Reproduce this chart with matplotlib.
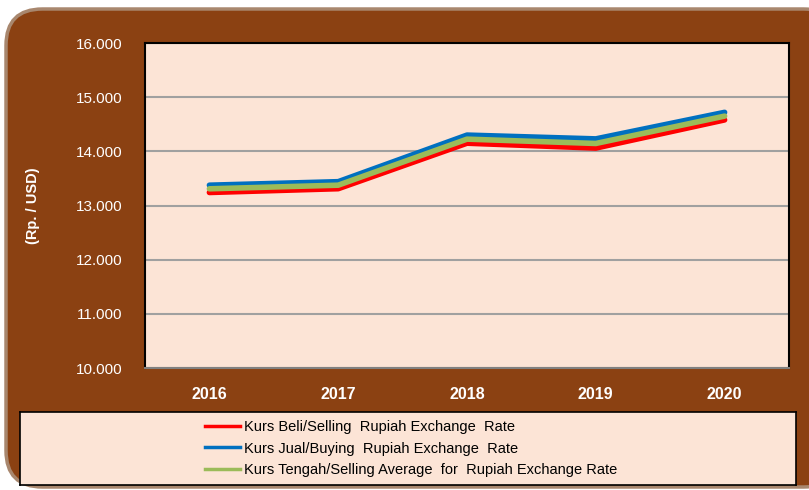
import matplotlib
matplotlib.use("Agg")
import matplotlib.pyplot as plt
from matplotlib.patches import FancyBboxPatch
from matplotlib.lines import Line2D

years = ["2016", "2017", "2018", "2019", "2020"]
kurs_beli = [13240, 13310, 14150, 14060, 14580]
kurs_jual = [13375, 13440, 14300, 14230, 14720]
kurs_tengah = [13308, 13375, 14225, 14145, 14650]
labels = ["Kurs Beli/Selling  Rupiah Exchange  Rate",
          "Kurs Jual/Buying  Rupiah Exchange  Rate",
          "Kurs Tengah/Selling Average  for  Rupiah Exchange Rate"]
y_ticks = [10000, 11000, 12000, 13000, 14000, 15000, 16000]
y_ticklabels = ["10.000", "11.000", "12.000", "13.000", "14.000", "15.000", "16.000"]

plt.rcParams['font.family'] = ["Liberation Sans", "DejaVu Sans"]

W, H = 809, 490
fig = plt.figure(figsize=(W / 100, H / 100), dpi=100)
fig.patch.set_facecolor("white")

brown = "#8B4112"
bg = FancyBboxPatch((6 / W, 3 / H), (840 - 6) / W, (H - 3 - 9) / H,
                    boxstyle="round,pad=0,rounding_size=0.045",
                    transform=fig.transFigure, facecolor=brown,
                    edgecolor="#A8876E", linewidth=2.5, zorder=-10,
                    mutation_aspect=W / H)
fig.patches.append(bg)

ax = fig.add_axes([145 / W, 1 - 368 / H, (789 - 145) / W, (368 - 43) / H])
ax.set_facecolor("#FCE4D6")
x = [i + 0.5 for i in range(len(years))]
ax.set_xlim(0, len(years))
ax.set_ylim(10000, 16000)
ax.set_yticks(y_ticks)
ax.set_yticklabels(y_ticklabels, color="white", fontsize=11)
ax.set_xticks(x)
ax.set_xticklabels(years, color="white", fontsize=11.5, fontweight="bold")
ax.tick_params(length=0, pad=14, axis="x")
ax.tick_params(length=0, pad=16.5, axis="y")
ax.grid(axis="y", color="#A0A0A0", linewidth=1.5)
ax.set_axisbelow(True)
for s in ax.spines.values():
    s.set_color("black")
    s.set_linewidth(1.5)
ax.spines["bottom"].set_color("#808080")

lw = 4
ax.plot(x, kurs_beli, color="#FF0000", lw=lw, solid_capstyle="round", zorder=3)
ax.plot(x, kurs_jual, color="#0070C0", lw=lw, solid_capstyle="round", zorder=3)
ax.plot(x, kurs_tengah, color="#9BBB59", lw=lw, solid_capstyle="round", zorder=4)

fig.text(33 / W, 1 - 206 / H, "(Rp. / USD)", rotation=90, color="white",
         fontsize=10.5, fontweight="bold", ha="center", va="center")

lax = fig.add_axes([20 / W, 1 - 485 / H, (796 - 20) / W, (485 - 412) / H])
lax.set_facecolor("#FCE4D6")
lax.set_xticks([]); lax.set_yticks([])
for s in lax.spines.values():
    s.set_color("black"); s.set_linewidth(1.2)
handles = [Line2D([0], [0], color=c, lw=2.5) for c in ["#FF0000", "#0070C0", "#9BBB59"]]
leg = lax.legend(handles, labels, loc="center left", bbox_to_anchor=((205 - 20) / 776, 0.5),
                 frameon=False, fontsize=10.5, handlelength=2.4, handletextpad=0.3,
                 labelspacing=0.5, borderaxespad=0, borderpad=0)

fig.savefig("out.png", dpi=100, facecolor=fig.get_facecolor())
